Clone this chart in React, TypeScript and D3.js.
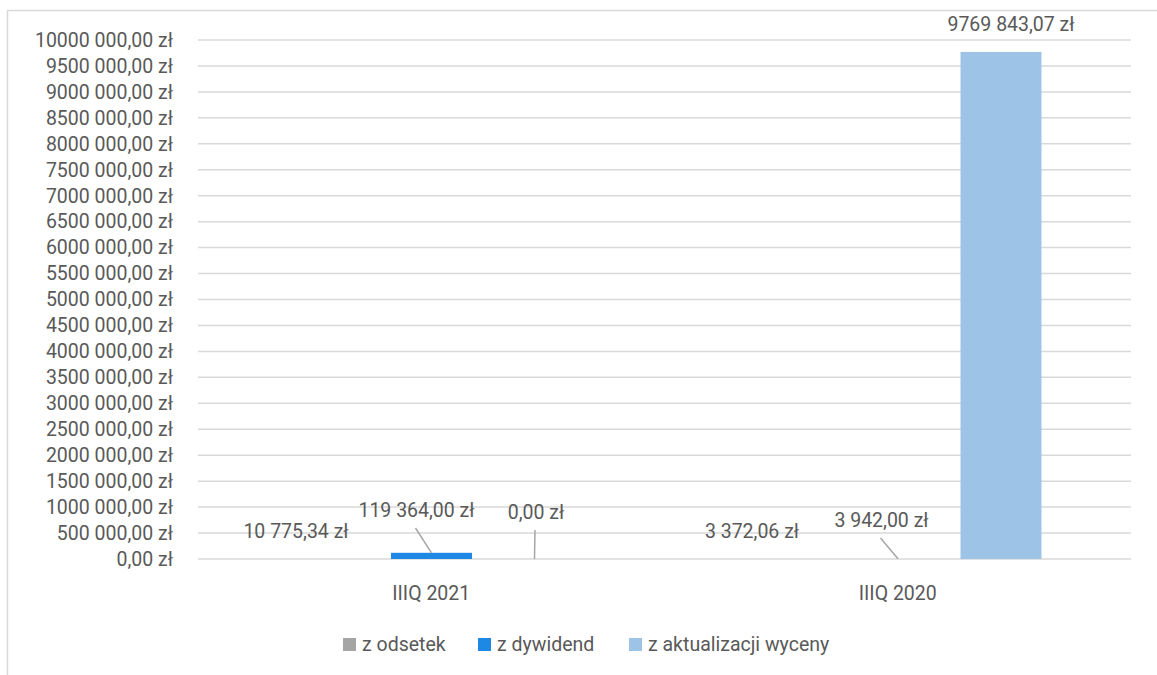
import React from "react";
import * as d3 from "d3";

const categories = ["IIIQ 2021", "IIIQ 2020"];
const seriesNames = ["z odsetek", "z dywidend", "z aktualizacji wyceny"];
const seriesColors = ["#A5A5A5", "#1E88E5", "#9DC3E6"];
const odsetek = [10775.34, 3372.06];
const dywidend = [119364.0, 3942.0];
const aktualizacja = [0.0, 9769843.07];
const yTicks = d3.range(0, 10000001, 500000);

// manual label placements (dx from bar center, baseline y in px), leader flag
const labelLayout = [
  [{ dx: -32.5, y: 538, leader: false }, { dx: -15, y: 517, leader: true }, { dx: 1.5, y: 519, leader: true }],
  [{ dx: -43, y: 538, leader: false }, { dx: -16.5, y: 527, leader: true }, { dx: 10, y: 31, leader: false }],
];

const fmt = (v: number) => {
  const [i, d] = v.toFixed(2).split(".");
  const ip = i.length > 3 ? i.slice(0, i.length - 3) + " " + i.slice(-3) : i;
  return `${ip},${d} zł`;
};

const W = 1157;
const H = 675;
const FONT = "Roboto, 'Open Sans', sans-serif";
const TXT = "#595959";
const FS = 19.5;

export default function App() {
  const data = [odsetek, dywidend, aktualizacja];
  const y = d3.scaleLinear().domain([0, 10000000]).range([559, 40]);
  const x = d3.scaleBand().domain(categories).range([198, 1131]).padding(0);
  const xs = d3
    .scaleBand()
    .domain(seriesNames)
    .range([79, 388])
    .paddingInner(0.214)
    .paddingOuter(0.107);

  return (
    <svg width={W} height={H} style={{ position: "absolute", left: 0, top: 0, fontFamily: FONT }}>
      <rect x={0} y={0} width={W} height={H} fill="#fff" />
      <rect x={7.5} y={10.5} width={1200} height={700} fill="#fff" stroke="#D9D9D9" strokeWidth={1.5} />
      {yTicks.map((t) => (
        <g key={t}>
          <line x1={198} x2={1131} y1={y(t)} y2={y(t)} stroke="#D9D9D9" strokeWidth={1.5} />
          <text x={173} y={y(t)} dy="0.35em" textAnchor="end" fontSize={FS} fill={TXT}>
            {fmt(t)}
          </text>
        </g>
      ))}
      {categories.map((c, ci) => (
        <g key={c}>
          {seriesNames.map((s, si) => {
            const v = data[si][ci];
            const bx = (x(c) as number) + (xs(s) as number);
            const bw = xs.bandwidth();
            const cx = bx + bw / 2;
            const top = y(v);
            const L = labelLayout[ci][si];
            const lx = cx + L.dx;
            return (
              <g key={s}>
                {y(0) - top >= 1 && (
                  <rect x={bx} y={top} width={bw} height={y(0) - top} fill={seriesColors[si]} />
                )}
                {L.leader && (
                  <line
                    x1={lx - 1}
                    y1={L.y + 11}
                    x2={cx}
                    y2={Math.min(top, 559)}
                    stroke="#A6A6A6"
                    strokeWidth={1.5}
                  />
                )}
                <text x={lx} y={L.y} textAnchor="middle" fontSize={FS} fill={TXT}>
                  {fmt(v)}
                </text>
              </g>
            );
          })}
          <text x={(x(c) as number) + x.bandwidth() / 2} y={600} textAnchor="middle" fontSize={FS} fill={TXT}>
            {c}
          </text>
        </g>
      ))}
      {[343, 478, 629].map((lx, i) => (
        <g key={i}>
          <rect x={lx} y={638} width={13} height={13} fill={seriesColors[i]} />
          <text x={lx + 19} y={651} fontSize={FS} fill={TXT}>
            {seriesNames[i]}
          </text>
        </g>
      ))}
    </svg>
  );
}
